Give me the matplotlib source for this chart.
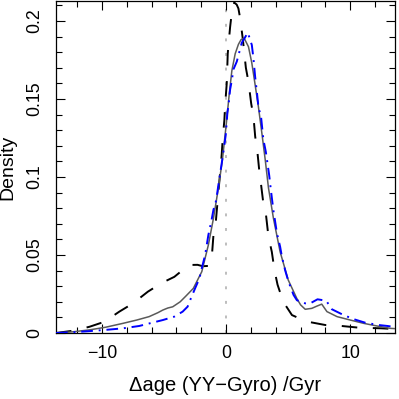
import matplotlib
matplotlib.use("Agg")
import matplotlib.pyplot as plt
from matplotlib.ticker import MultipleLocator

plt.rcParams['font.family'] = ['Liberation Sans', 'DejaVu Sans']

# Black long-dashed density
black_x = [-13.7, -12.3, -11.0, -9.8, -8.6, -7.5, -6.3, -5.2, -4.17, -3.0, -2.3, -1.88, -1.43,
           -1.15, -1.02, -0.83, -0.62, -0.48, -0.35, -0.27, -0.14, -0.08, 0.05, 0.13, 0.24, 0.32,
           0.45, 0.65, 0.85, 0.99, 1.13, 1.35, 1.59, 1.8, 2.02, 2.2, 2.34, 2.52, 2.65, 2.8, 3.0,
           3.2, 3.41, 3.68, 3.9, 4.14, 4.6, 5.3, 6.0, 6.6, 8.0, 9.3, 10.7, 12.5, 13.6]
black_y = [0.0, 0.0015, 0.004, 0.0072, 0.0137, 0.019, 0.0265, 0.032, 0.036, 0.0436, 0.0437, 0.0428, 0.0430,
           0.049, 0.0628, 0.0713, 0.0906, 0.103, 0.115, 0.125, 0.1365, 0.146, 0.160, 0.179, 0.189, 0.196,
           0.205, 0.2118, 0.2105, 0.208, 0.2017, 0.188, 0.170, 0.161, 0.147, 0.139, 0.126, 0.116, 0.1056, 0.096, 0.083,
           0.0765, 0.0617, 0.052, 0.040, 0.031, 0.020, 0.0115, 0.009, 0.0072, 0.0051, 0.0045, 0.0034, 0.003, 0.0025]

# Grey solid density
grey_x = [-13.7, -12.3, -11.0, -9.7, -8.3, -7.2, -6.2, -5.5, -5.1, -4.7, -4.3, -3.7, -3.2, -2.64,
          -1.96, -1.43, -1.02, -0.62, -0.3, 0.0, 0.25, 0.46, 0.73, 0.99, 1.2, 1.45, 1.8, 2.07, 2.3,
          2.6, 2.88, 3.15, 3.41, 3.81, 4.35, 5.0, 5.7, 6.0, 6.37, 6.9, 7.3, 7.7, 8.12, 8.93, 10.0,
          11.07, 12.15, 13.2, 13.6]
grey_y = [0.0, 0.0008, 0.002, 0.0037, 0.0062, 0.0083, 0.0105, 0.013, 0.0147, 0.016, 0.0168, 0.020, 0.024, 0.0286,
          0.0393, 0.0564, 0.0735, 0.093, 0.111, 0.133, 0.153, 0.168, 0.179, 0.185, 0.1880, 0.189, 0.1835, 0.173, 0.161,
          0.145, 0.128, 0.111, 0.093, 0.0735, 0.052, 0.034, 0.022, 0.018, 0.0152, 0.0158, 0.0172, 0.0185, 0.0137, 0.0105, 0.0083,
          0.0062, 0.0045, 0.003, 0.0028]

# Blue dash-dot density
blue_x = [-13.7, -12.3, -11.0, -9.7, -8.3, -7.0, -5.1, -4.17, -3.5, -3.1, -2.9, -2.5, -2.15, -1.96,
          -1.69, -1.56, -1.43, -1.2, -1.02, -0.8, -0.62, -0.35, -0.22, -0.03, 0.1, 0.19, 0.32, 0.46,
          0.59, 0.86, 1.26, 1.75, 2.07, 2.2, 2.34, 2.47, 2.6, 2.82, 3.0, 3.2, 3.47, 3.6, 3.8, 3.95,
          4.09, 4.35, 4.49, 4.76, 5.02, 5.43, 5.7, 6.37, 6.77, 7.36, 8.06, 8.52, 9.46, 10.3, 11.2,
          12.3, 13.0, 13.6]
blue_y = [0.0, 0.0005, 0.0012, 0.002, 0.003, 0.0045, 0.0083, 0.0105, 0.0137, 0.0169, 0.021, 0.0286, 0.035, 0.0415,
          0.050, 0.0564, 0.0628, 0.0713, 0.079, 0.085, 0.095, 0.109, 0.116, 0.127, 0.141, 0.146, 0.156, 0.162,
          0.169, 0.174, 0.186, 0.1925, 0.1846, 0.176, 0.164, 0.155, 0.145, 0.138, 0.124, 0.116, 0.101, 0.092, 0.079, 0.0713,
          0.064, 0.0553, 0.049, 0.040, 0.033, 0.0244, 0.021, 0.019, 0.019, 0.0216, 0.0207, 0.0152, 0.0115, 0.0088, 0.0066,
          0.0051, 0.0045, 0.0038]

x_ticks = [-10, 0, 10]
x_tick_labels = ["\u221210", "0", "10"]
y_ticks = [0, 0.05, 0.1, 0.15, 0.2]
y_tick_labels = ["0", "0.05", "0.1", "0.15", "0.2"]

fig = plt.figure(figsize=(3.99, 3.99), dpi=100)
ax = fig.add_axes([56/399, 66/399, (395-56)/399, (333-1)/399])

ax.axvline(0, color='#bdbdbd', lw=1.4, dashes=(1.5, 6), zorder=1)
ax.plot(black_x, black_y, color='black', lw=1.4, dashes=(8, 8), zorder=2)
ax.plot(grey_x, grey_y, color='#5a5a5a', lw=1.1, zorder=3)
ax.plot(blue_x, blue_y, color='#0000ff', lw=1.4, dashes=(6, 3, 1, 3), zorder=4)

ax.set_xlim(-13.7, 13.6)
ax.set_ylim(0, 0.2128)
ax.set_xticks(x_ticks)
ax.set_xticklabels(x_tick_labels)
ax.set_yticks(y_ticks)
ax.set_yticklabels(y_tick_labels)
ax.xaxis.set_minor_locator(MultipleLocator(2))
ax.yaxis.set_minor_locator(MultipleLocator(0.01))

ax.tick_params(which='both', direction='in', top=True, right=True, width=0.8, labelsize=12.8)
ax.tick_params(which='major', length=6.5)
ax.tick_params(which='minor', length=4)
ax.tick_params(axis='x', pad=8.5)
ax.tick_params(axis='y', pad=9.0)
for lab in ax.get_yticklabels():
    lab.set_rotation(90)
    lab.set_va('center')

for s in ax.spines.values():
    s.set_linewidth(0.9)

ax.set_xlabel("\u0394age (YY\u2212Gyro) /Gyr", fontsize=14.5, labelpad=10)
ax.set_ylabel("Density", fontsize=14, labelpad=7)

fig.savefig("out.png", dpi=100)
